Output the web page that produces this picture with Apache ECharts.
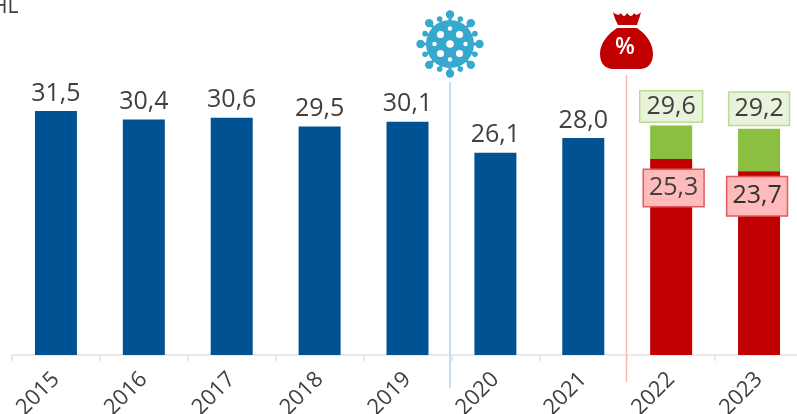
<!DOCTYPE html>
<html><head><meta charset="utf-8">
<style>html,body{margin:0;padding:0;background:#fff}#c{width:797px;height:414px}</style>
<script src="https://cdn.jsdelivr.net/npm/echarts@6/dist/echarts.min.js"></script>
</head><body><div id="c"></div>
<script>
const categories = ['2015','2016','2017','2018','2019','2020','2021','2022','2023'];
const actual = [31.5,30.4,30.6,29.5,30.1,26.1,28.0,null,null];
const lowCase = [null,null,null,null,null,null,null,25.3,23.7];
const highCase = [null,null,null,null,null,null,null,29.6,29.2];
const unitLabel = 'HL';

const FONT = '"Open Sans", sans-serif';
const TXT = '#404040';
const fmt = v => v.toFixed(1).replace('.', ',');

const boxBase = {show:true,fontFamily:FONT,fontSize:25,color:TXT,borderWidth:1.5,lineHeight:28};
const lowLabels = [{distance:11,offset:[2.5,0],padding:[4,5]},{distance:6,offset:[-2,0],padding:[5,5],color:'#303030'}];
const highPadding = [[1,6],[2,5]];

const series = [
  {type:'bar',stack:'a',barWidth:42,data:actual,itemStyle:{color:'#005293'},
   label:{show:true,position:'top',distance:5,fontFamily:FONT,fontSize:25,color:TXT,
          formatter:p=>p.value==null?'':fmt(p.value)}},
  {type:'bar',stack:'a',barWidth:42,itemStyle:{color:'#C00000'},z:3,
   data:lowCase.map((v,i)=>{
     if(v==null) return null;
     return {value:v,label:Object.assign({},boxBase,{position:'insideTop',backgroundColor:'#FFBBBB',borderColor:'#E25B5B',
       formatter:fmt(v)},lowLabels[i-7])};
   })},
  {type:'bar',stack:'a',barWidth:42,itemStyle:{color:'#8BBF42'},
   data:highCase.map((v,i)=>{
     if(v==null) return null;
     return {value:+(v-lowCase[i]).toFixed(1),label:Object.assign({},boxBase,{position:'top',distance:4,backgroundColor:'#E9F3DC',borderColor:'#B9DC96',
       padding:highPadding[i-7],formatter:fmt(v)})};
   }),
   markPoint:{silent:true,animation:false,label:{show:false},data:[{
     x:626.5,y:40.5,symbol:'path://M13 0 C16 3 19 4 21 1 C23 5 25 5 27 1 C30 5 32 5 34 1 C36 4 38 3 41 0 C40 5 38 9 37 13 L18 13 C16 9 14 5 13 0 Z M17 16 L37 16 C46 22 53 31 53 42 C53 52 47 57 40 57 L13 57 C6 57 0 52 0 42 C0 31 8 22 17 16 Z',
     symbolSize:[53,57],itemStyle:{color:'#C00000'}}]}}
];

const virusColor = '#36A9CC';
const cx = 450, cy = 44;
const virus = [];
virus.push({type:'circle',shape:{cx,cy,r:24},style:{fill:virusColor}});
for(let k=0;k<16;k++){
  const a = k*Math.PI/8, major = k%2===0;
  const r = major?29.5:27, br = major?4.2:2.8;
  virus.push({type:'line',shape:{x1:cx,y1:cy,x2:cx+r*Math.cos(a),y2:cy+r*Math.sin(a)},style:{stroke:virusColor,lineWidth:major?3:2}});
  virus.push({type:'circle',shape:{cx:cx+r*Math.cos(a),cy:cy+r*Math.sin(a),r:br},style:{fill:virusColor}});
}
[[0,0,3.8],[-9.5,-9.5,3.6],[9.5,-9.5,3.6],[-9.5,9.5,3.6],[9.5,9.5,3.6],[-15.5,0,2.2],[15.5,0,2.2],[0,-15.5,2.2],[0,15.5,2.2]]
 .forEach(d=>virus.push({type:'circle',shape:{cx:cx+d[0],cy:cy+d[1],r:d[2]},style:{fill:'#fff'}}));

const graphic = [
  {type:'text',left:-8,top:-3,style:{text:unitLabel,font:'21px '+FONT,fill:TXT}},
  {type:'line',z:10,shape:{x1:450,y1:82,x2:450,y2:388},style:{stroke:'#A9DAEA',lineWidth:1.5}},
  {type:'line',z:10,shape:{x1:626.5,y1:75,x2:626.5,y2:382},style:{stroke:'#FBBABA',lineWidth:1.5}},
  {type:'group',z:20,children:virus},
  {type:'text',z:30,x:615,y:36,style:{text:'%',font:'600 23px '+FONT,fill:'#fff'}}
];

const chart = echarts.init(document.getElementById('c'),null,{renderer:'canvas'});
chart.setOption({
  animation:false,
  grid:{left:12,right:-6,top:45,bottom:59,outerBoundsMode:'none'},
  xAxis:{type:'category',data:categories,
    axisLine:{lineStyle:{color:'#E2E2E2',width:1.5}},
    axisTick:{show:true,length:6,lineStyle:{color:'#E2E2E2',width:1.5}},
    axisLabel:{rotate:45,fontFamily:FONT,fontSize:22,color:TXT,margin:21,interval:0}},
  yAxis:{type:'value',min:0,max:40,show:false},
  series,graphic
});
</script></body></html>
